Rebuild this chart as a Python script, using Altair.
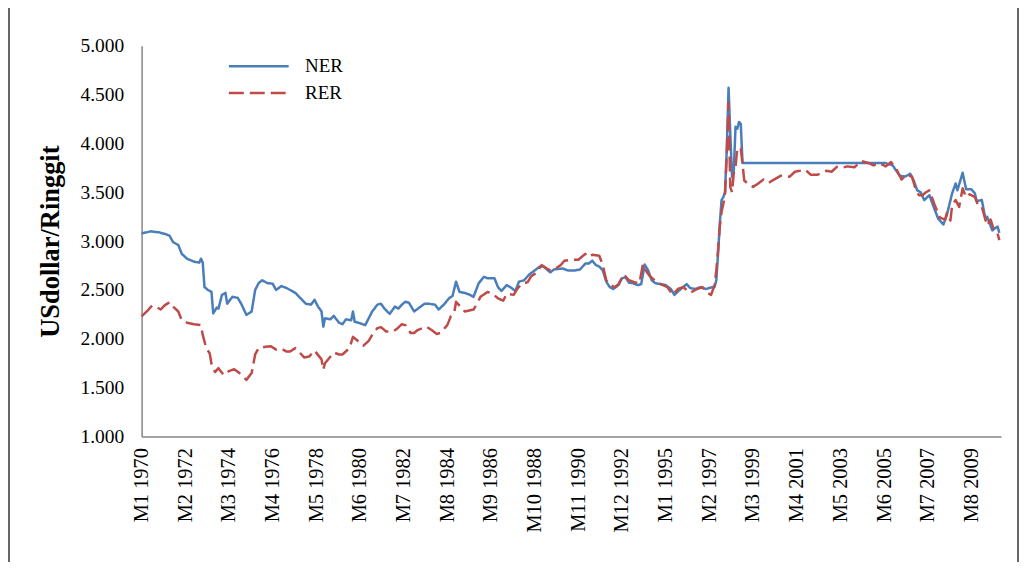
import altair as alt
import pandas as pd

# Month index 0 = M1 1970 (monthly series to M12 2010)
NER_MONTH = [0, 3, 5, 10, 14, 16, 18, 21, 23, 26, 30, 33, 34, 35, 36, 38, 40, 41, 43, 44,
             46, 48, 49, 52, 55, 57, 60, 63, 65, 67, 69, 72, 75, 77, 80, 83, 88, 91, 94, 97,
             99, 101, 103, 104, 105, 108, 110, 113, 115, 117, 120, 121, 122, 125, 128, 130, 132, 135, 137, 139,
             142, 145, 147, 149, 151, 153, 156, 159, 162, 164, 168, 170, 173, 176, 178, 180, 182, 185, 188, 190,
             193, 196, 198, 202, 204, 206, 209, 211, 214, 216, 219, 222, 225, 228, 230, 234, 236, 241, 244, 248,
             251, 254, 256, 258, 260, 262, 264, 266, 268, 270, 273, 275, 277, 279, 281, 284, 286, 288, 290, 292,
             294, 300, 303, 305, 308, 310, 312, 314, 317, 320, 323, 325, 327, 328, 329, 330, 331, 332, 333, 334,
             335, 336, 337, 338, 339, 340, 341, 342, 343, 344, 426, 427, 430, 432, 434, 437, 440, 442, 444, 446,
             448, 451, 453, 456, 459, 461, 464, 466, 467, 470, 472, 475, 477, 478, 481, 483, 484, 487, 490, 491]
NER_VALUE = [3.08, 3.09, 3.10, 3.09, 3.07, 3.055, 2.99, 2.96, 2.87, 2.82, 2.79, 2.78, 2.82, 2.78, 2.53, 2.50, 2.48, 2.26, 2.32, 2.31,
             2.45, 2.47, 2.36, 2.43, 2.42, 2.36, 2.245, 2.28, 2.50, 2.57, 2.60, 2.57, 2.565, 2.50, 2.54, 2.52, 2.47, 2.415, 2.36, 2.35,
             2.40, 2.33, 2.28, 2.125, 2.21, 2.20, 2.235, 2.165, 2.15, 2.20, 2.19, 2.28, 2.175, 2.16, 2.14, 2.21, 2.28, 2.35, 2.36, 2.31,
             2.255, 2.33, 2.31, 2.35, 2.38, 2.37, 2.28, 2.32, 2.36, 2.36, 2.35, 2.30, 2.35, 2.415, 2.44, 2.585, 2.48, 2.47, 2.45, 2.43,
             2.57, 2.635, 2.62, 2.62, 2.53, 2.49, 2.55, 2.53, 2.49, 2.585, 2.60, 2.66, 2.70, 2.74, 2.74, 2.68, 2.71, 2.72, 2.70, 2.70,
             2.71, 2.77, 2.77, 2.80, 2.755, 2.74, 2.70, 2.585, 2.53, 2.51, 2.55, 2.62, 2.63, 2.575, 2.57, 2.55, 2.56, 2.76, 2.70, 2.60,
             2.57, 2.55, 2.51, 2.45, 2.50, 2.53, 2.56, 2.52, 2.51, 2.53, 2.51, 2.52, 2.53, 2.53, 2.60, 2.87, 3.18, 3.42, 3.45, 3.50,
             3.95, 4.57, 4.10, 3.66, 3.72, 4.17, 4.15, 4.22, 4.20, 3.80, 3.80, 3.79, 3.775, 3.72, 3.67, 3.66, 3.69, 3.62, 3.52, 3.50,
             3.42, 3.47, 3.37, 3.23, 3.17, 3.27, 3.49, 3.59, 3.52, 3.70, 3.53, 3.53, 3.49, 3.41, 3.42, 3.23, 3.25, 3.11, 3.15, 3.085]

RER_MONTH = [0, 4, 6, 8, 11, 13, 16, 18, 21, 23, 26, 30, 34, 35, 37, 39, 40, 42, 44, 47,
             50, 53, 56, 57, 60, 63, 65, 67, 71, 74, 77, 80, 83, 85, 88, 91, 93, 96, 99, 103,
             104, 105, 110, 113, 115, 119, 121, 123, 127, 130, 132, 135, 137, 140, 144, 146, 149, 151, 154, 156,
             158, 163, 166, 169, 171, 175, 177, 179, 180, 183, 185, 190, 192, 194, 198, 201, 204, 207, 209, 213,
             215, 218, 221, 223, 226, 229, 232, 234, 237, 240, 242, 246, 250, 254, 255, 258, 262, 264, 266, 268,
             271, 273, 276, 279, 282, 285, 287, 289, 291, 293, 296, 301, 304, 307, 310, 314, 318, 321, 324, 326,
             328, 329, 330, 331, 332, 333, 334, 335, 336, 337, 338, 339, 340, 341, 343, 344, 345, 347, 350, 353,
             356, 359, 361, 366, 371, 374, 380, 383, 387, 392, 395, 398, 401, 404, 408, 412, 416, 419, 422, 426,
             429, 432, 435, 438, 441, 443, 445, 447, 449, 451, 454, 457, 460, 461, 463, 464, 466, 468, 470, 472,
             474, 477, 479, 481, 484, 486, 488, 490, 491]
RER_VALUE = [2.23, 2.30, 2.34, 2.33, 2.30, 2.34, 2.375, 2.33, 2.28, 2.19, 2.165, 2.15, 2.14, 2.04, 1.905, 1.85, 1.745, 1.66, 1.70, 1.63,
             1.67, 1.69, 1.65, 1.63, 1.58, 1.65, 1.84, 1.905, 1.92, 1.925, 1.89, 1.90, 1.87, 1.87, 1.905, 1.85, 1.81, 1.82, 1.88, 1.79,
             1.685, 1.75, 1.86, 1.84, 1.84, 1.905, 2.02, 1.99, 1.93, 1.98, 2.04, 2.11, 2.12, 2.075, 2.075, 2.10, 2.15, 2.14, 2.06, 2.06,
             2.09, 2.125, 2.09, 2.05, 2.06, 2.14, 2.23, 2.27, 2.38, 2.32, 2.28, 2.30, 2.36, 2.43, 2.48, 2.46, 2.415, 2.39, 2.46, 2.45,
             2.51, 2.57, 2.58, 2.64, 2.675, 2.755, 2.72, 2.70, 2.72, 2.755, 2.80, 2.81, 2.81, 2.87, 2.84, 2.86, 2.85, 2.755, 2.60, 2.55,
             2.53, 2.56, 2.66, 2.60, 2.58, 2.57, 2.765, 2.69, 2.64, 2.61, 2.57, 2.53, 2.45, 2.51, 2.53, 2.47, 2.51, 2.53, 2.47, 2.45,
             2.55, 2.70, 2.91, 3.15, 3.30, 3.38, 3.49, 3.90, 4.42, 3.55, 3.50, 3.70, 3.76, 3.95, 3.95, 3.79, 3.62, 3.59, 3.555, 3.59,
             3.63, 3.595, 3.62, 3.67, 3.66, 3.71, 3.73, 3.68, 3.68, 3.72, 3.71, 3.76, 3.75, 3.765, 3.755, 3.82, 3.80, 3.775, 3.80, 3.765,
             3.81, 3.74, 3.63, 3.68, 3.66, 3.54, 3.47, 3.47, 3.50, 3.52, 3.37, 3.24, 3.22, 3.29, 3.21, 3.37, 3.42, 3.35, 3.54, 3.45,
             3.48, 3.45, 3.36, 3.35, 3.16, 3.22, 3.11, 3.08, 3.01]

SERIES = ["NER", "RER"]
COLORS = ["#4A7EBB", "#BE4B48"]
TICK_VALUES = [0, 25, 50, 75, 100, 125, 150, 175, 200, 225, 250, 275, 300, 325, 350, 375, 400, 425, 450, 475]
TICK_LABELS = ["M1 1970", "M2 1972", "M3 1974", "M4 1976", "M5 1978", "M6 1980", "M7 1982", "M8 1984",
               "M9 1986", "M10 1988", "M11 1990", "M12 1992", "M1 1995", "M2 1997", "M3 1999", "M4 2001",
               "M5 2003", "M6 2005", "M7 2007", "M8 2009"]
Y_TICKS = [1.0, 1.5, 2.0, 2.5, 3.0, 3.5, 4.0, 4.5, 5.0]

rows = [{"month": m, "value": v, "series": "NER"} for m, v in zip(NER_MONTH, NER_VALUE)]
rows += [{"month": m, "value": v, "series": "RER"} for m, v in zip(RER_MONTH, RER_VALUE)]
df = pd.DataFrame(rows)

label_expr = " : ".join(f"datum.value == {v} ? '{l}'" for v, l in zip(TICK_VALUES, TICK_LABELS)) + " : ''"

FONT = "Liberation Serif"
legend = alt.Legend(
    orient="none", legendX=108, legendY=11, title=None, symbolType="M-6,0H6", symbolSize=100,
    symbolStrokeWidth=2.5, labelOffset=37, labelFont=FONT, labelFontSize=19, labelColor="black",
    rowPadding=7, padding=0,
)

lines = alt.Chart(df).mark_line(strokeWidth=2.5, strokeJoin="round").encode(
    x=alt.X("month:Q", scale=alt.Scale(domain=[0, 492], nice=False, zero=False),
            axis=alt.Axis(values=TICK_VALUES, labelExpr=label_expr, labelAngle=270, ticks=False, grid=False,
                          domainColor="#868686", domainWidth=1.5, labelFont=FONT, labelFontSize=20.5,
                          labelColor="black", labelPadding=11, labelFlush=False, labelOverlap=False, title=None)),
    y=alt.Y("value:Q", scale=alt.Scale(domain=[1, 5], nice=False, zero=False),
            axis=alt.Axis(values=Y_TICKS, format=".3f", ticks=False, grid=False, domainColor="#868686",
                          domainWidth=1.5, labelFont=FONT, labelFontSize=19.5, labelColor="black", labelPadding=18,
                          title="USdollar/Ringgit", titleFont=FONT, titleFontSize=26.5, titleFontWeight="bold",
                          titleColor="black", titlePadding=15)),
    color=alt.Color("series:N", scale=alt.Scale(domain=SERIES, range=COLORS), legend=legend),
    strokeDash=alt.StrokeDash("series:N", scale=alt.Scale(domain=SERIES, range=[[1, 0], [15, 6]]), legend=legend),
    order="month:Q",
)

frame = alt.Chart(alt.Data(values=[{}])).mark_rect(filled=False, stroke="black", strokeWidth=1.2).encode(
    x=alt.value(-133), x2=alt.value(879), y=alt.value(-60), y2=alt.value(700)
)

chart = alt.layer(lines, frame).properties(
    width=862, height=392,
    autosize=alt.AutoSizeParams(type="none"),
    padding={"left": 134, "top": 37, "right": 20, "bottom": 125},
).configure_view(stroke=None)

chart.save("out.html", embed_options={"renderer": "svg", "actions": False})
